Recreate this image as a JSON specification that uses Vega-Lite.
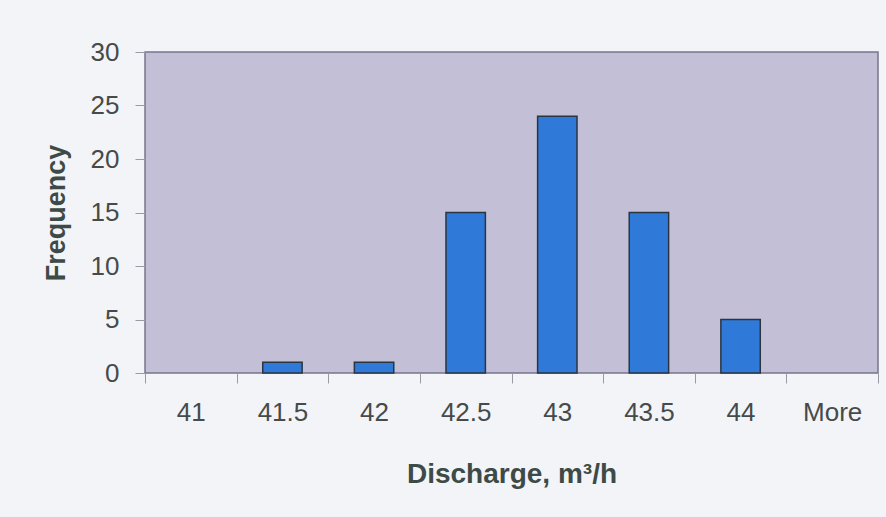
{
  "$schema": "https://vega.github.io/schema/vega-lite/v6.json",
  "autosize": "none",
  "width": 733,
  "height": 321,
  "padding": {"left": 145, "top": 52, "right": 8, "bottom": 144},
  "background": "#F3F4F8",
  "config": {
    "view": {"fill": "#C3BFD6", "stroke": "#77768A", "strokeWidth": 1.5},
    "font": "Liberation Sans"
  },
  "data": {
    "values": [
      {"bin": "41", "freq": 0},
      {"bin": "41.5", "freq": 1},
      {"bin": "42", "freq": 1},
      {"bin": "42.5", "freq": 15},
      {"bin": "43", "freq": 24},
      {"bin": "43.5", "freq": 15},
      {"bin": "44", "freq": 5},
      {"bin": "More", "freq": 0}
    ]
  },
  "mark": {"type": "bar", "color": "#2F7AD8", "stroke": "#2B3540", "strokeWidth": 1.5, "width": {"band": 0.43}},
  "encoding": {
    "x": {
      "field": "bin", "type": "nominal", "sort": null,
      "scale": {"paddingInner": 0, "paddingOuter": 0},
      "axis": {
        "title": "Discharge, m³/h",
        "labelAngle": 0, "labelFontSize": 26, "labelColor": "#454B4A", "labelPadding": 16,
        "tickBand": "extent", "tickSize": 10, "tickColor": "#9A9AA6", "domain": false,
        "titleFontSize": 28, "titleFontWeight": "bold", "titleColor": "#3D4B46", "titlePadding": 35
      }
    },
    "y": {
      "field": "freq", "type": "quantitative",
      "scale": {"domain": [0, 30]},
      "axis": {
        "title": "Frequency", "values": [0, 5, 10, 15, 20, 25, 30], "grid": false,
        "labelFontSize": 26, "labelColor": "#454B4A", "labelPadding": 16,
        "tickSize": 10, "tickColor": "#9A9AA6", "domain": false,
        "titleFontSize": 27, "titleFontWeight": "bold", "titleColor": "#3D4B46", "titlePadding": 20
      }
    },
    "opacity": {"condition": {"test": "datum.freq == 0", "value": 0}, "value": 1}
  }
}
